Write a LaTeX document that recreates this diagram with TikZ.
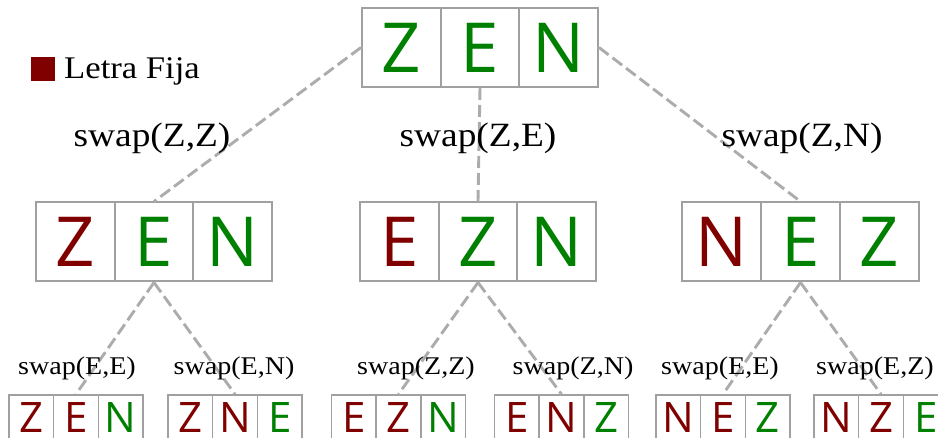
\documentclass[tikz,border=0pt]{standalone}
\usepackage{fontspec}
\newfontfamily\cellfont{Open Sans}
\newfontfamily\labfont[FakeStretch=1.1]{Liberation Serif}
\definecolor{fixred}{RGB}{128,0,0}
\definecolor{freegreen}{RGB}{0,128,0}
\definecolor{edgegray}{RGB}{172,172,172}
\definecolor{boxgray}{RGB}{160,160,160}
\tikzset{
  bigcell/.style={draw=boxgray, line width=2pt, fill=white, minimum width=78.67pt, minimum height=79pt, inner sep=0pt, font=\cellfont\fontsize{69}{69}\selectfont},
  smallcell/.style={draw=boxgray, line width=1.6pt, fill=white, minimum width=44.67pt, minimum height=46pt, inner sep=0pt, font=\cellfont\fontsize{42}{42}\selectfont},
  fx/.style={text=fixred},
  fr/.style={text=freegreen},
  edge/.style={draw=edgegray, line width=2.9pt, dash pattern=on 12pt off 5pt},
  biglab/.style={anchor=base, inner sep=0pt, font=\labfont\fontsize{34}{34}\selectfont},
  smalllab/.style={anchor=base, inner sep=0pt, font=\labfont\fontsize{25.5}{25.5}\selectfont}
}
\begin{document}
\begin{tikzpicture}[x=1pt,y=-1pt]
\useasboundingbox (0,0) rectangle (938,438);
\clip (0,0) rectangle (938,438);
% top
\node[bigcell,fr] (t1) at (401.3,47.5) {Z};
\node[bigcell,fr] (t2) at (480,47.5) {E};
\node[bigcell,fr] (t3) at (558.7,47.5) {N};
% middle level
\node[bigcell,fx] (a1) at (75.3,242) {Z};
\node[bigcell,fr] (a2) at (154,242) {E};
\node[bigcell,fr] (a3) at (232.7,242) {N};
\node[bigcell,fx] (b1) at (399.3,242) {E};
\node[bigcell,fr] (b2) at (478,242) {Z};
\node[bigcell,fr] (b3) at (556.7,242) {N};
\node[bigcell,fx] (c1) at (721.8,242) {N};
\node[bigcell,fr] (c2) at (800.5,242) {E};
\node[bigcell,fr] (c3) at (879.2,242) {Z};
% bottom level
\node[smallcell,fx] (aa1) at (31.3,418) {Z};
\node[smallcell,fx] (aa2) at (76,418) {E};
\node[smallcell,fr] (aa3) at (120.7,418) {N};
\node[smallcell,fx] (ab1) at (190.3,418) {Z};
\node[smallcell,fx] (ab2) at (235,418) {N};
\node[smallcell,fr] (ab3) at (279.7,418) {E};
\node[smallcell,fx] (ba1) at (353.8,418) {E};
\node[smallcell,fx] (ba2) at (398.5,418) {Z};
\node[smallcell,fr] (ba3) at (443.2,418) {N};
\node[smallcell,fx] (bb1) at (516.8,418) {E};
\node[smallcell,fx] (bb2) at (561.5,418) {N};
\node[smallcell,fr] (bb3) at (606.2,418) {Z};
\node[smallcell,fx] (ca1) at (678.3,418) {N};
\node[smallcell,fx] (ca2) at (723,418) {E};
\node[smallcell,fr] (ca3) at (767.7,418) {Z};
\node[smallcell,fx] (cb1) at (836.3,418) {N};
\node[smallcell,fx] (cb2) at (881,418) {Z};
\node[smallcell,fr] (cb3) at (925.7,418) {E};
% connectors
\draw[edge] (t1.west) -- (a2.north);
\draw[edge] (t2.south) -- (b2.north);
\draw[edge] (t3.east) -- (c2.north);
\draw[edge] (a2.south) -- (aa2.north);
\draw[edge] (a2.south) -- (ab2.north);
\draw[edge] (b2.south) -- (ba2.north);
\draw[edge] (b2.south) -- (bb2.north);
\draw[edge] (c2.south) -- (ca2.north);
\draw[edge] (c2.south) -- (cb2.north);
% labels
\node[biglab] (l1) at (152,147) {swap(Z,Z)};
\node[biglab] (l2) at (478,147) {swap(Z,E)};
\node[biglab] (l3) at (802,147) {swap(Z,N)};
\node[smalllab] (l11) at (77,375) {swap(E,E)};
\node[smalllab] (l12) at (234,375) {swap(E,N)};
\node[smalllab] (l21) at (416,375) {swap(Z,Z)};
\node[smalllab] (l22) at (573,375) {swap(Z,N)};
\node[smalllab] (l31) at (720,375) {swap(E,E)};
\node[smalllab] (l32) at (875,375) {swap(E,Z)};
% legend
\node[fill=fixred, minimum size=24pt, inner sep=0pt] (key) at (43,69.5) {};
\node[anchor=base west, inner sep=0pt, font=\labfont\fontsize{31.5}{31.5}\selectfont] (keytext) at (64,79) {Letra Fija};
\end{tikzpicture}
\end{document}
